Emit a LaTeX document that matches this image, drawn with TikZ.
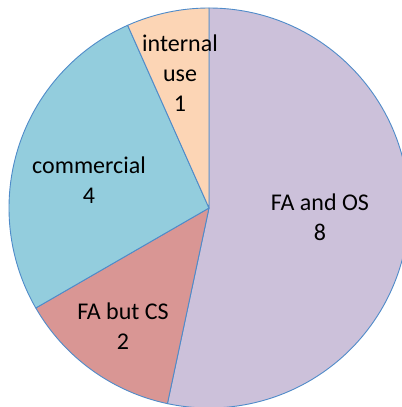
\documentclass[tikz,border=0pt]{standalone}
\usepackage{fontspec}
\setmainfont{Carlito}
\definecolor{sliceOS}{HTML}{CCC1DA}
\definecolor{sliceCS}{HTML}{D99694}
\definecolor{sliceCom}{HTML}{93CDDD}
\definecolor{sliceInt}{HTML}{FCD5B5}
\definecolor{rim}{HTML}{4F8BC9}
\begin{document}
\begin{tikzpicture}[x=1bp,y=1bp,
  slice/.style={draw=rim,line width=0.9bp,line join=round},
  lbl/.style={align=center,inner sep=0pt,font=\fontsize{24bp}{30bp}\selectfont,text=black}]
\useasboundingbox (0,0) rectangle (402,407);
\clip (0,0) rectangle (402,407);
\coordinate (c) at (209,199);
\def\R{200}
% FA and OS: 8 of 15
\filldraw[slice,fill=sliceOS] (c) -- ++(90:\R) arc[start angle=90,end angle=-102,radius=\R] -- cycle;
% FA but CS: 2 of 15
\filldraw[slice,fill=sliceCS] (c) -- ++(-102:\R) arc[start angle=-102,end angle=-150,radius=\R] -- cycle;
% commercial: 4 of 15
\filldraw[slice,fill=sliceCom] (c) -- ++(-150:\R) arc[start angle=-150,end angle=-246,radius=\R] -- cycle;
% internal use: 1 of 15
\filldraw[slice,fill=sliceInt] (c) -- ++(114:\R) arc[start angle=114,end angle=90,radius=\R] -- cycle;
% labels
\node[lbl] (os) at (320,190) {FA and OS\\8};
\node[lbl] (cs) at (123,81) {FA but CS\\2};
\node[lbl] (com) at (89,227) {commercial\\4};
\node[lbl] (int) at (180,334) {internal\\use\\1};
\end{tikzpicture}
\end{document}
